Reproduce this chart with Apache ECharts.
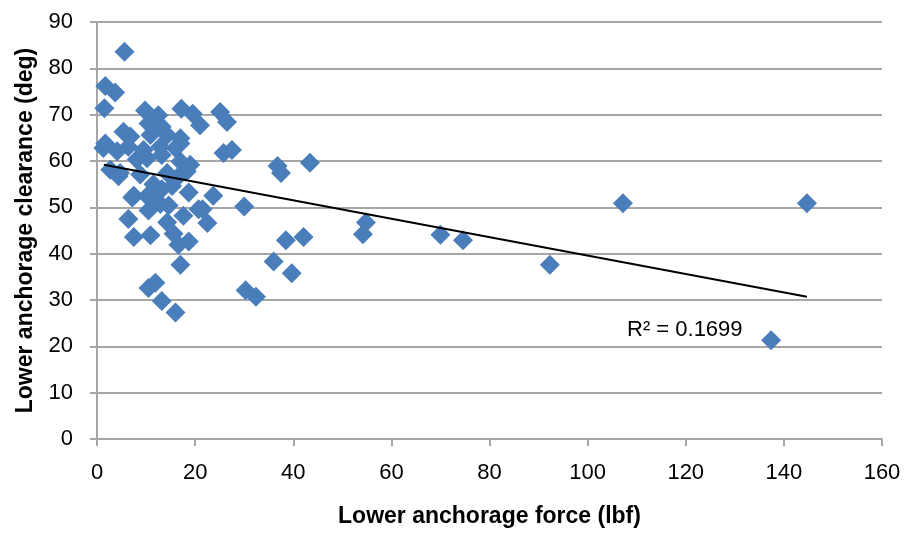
<!DOCTYPE html>
<html>
<head>
<meta charset="utf-8">
<script src="https://cdn.jsdelivr.net/npm/echarts@6/dist/echarts.min.js"></script>
<style>html,body{margin:0;padding:0;background:#fff}#c{width:906px;height:533px}</style>
</head>
<body>
<div id="c"></div>
<script>
// Lower anchorage force (lbf)
const forceX = [144.7,137.4,107.2,92.3,74.6,70.0,54.8,54.2,43.4,42.1,39.7,38.5,37.5,36.8,36.0,32.4,30.3,30.0,27.5,25.8,26.5,25.1,23.7,22.5,21.5,21.0,19.5,17.2,18.7,18.3,19.0,17.0,17.6,18.7,16.6,17.0,16.0,13.2,11.9,10.5,15.6,14.3,10.9,7.5,6.4,7.5,10.5,11.9,12.9,10.5,14.6,13.2,15.3,11.5,16.3,14.3,8.8,4.7,2.7,4.4,8.1,10.2,13.2,16.0,12.9,9.5,6.4,4.1,1.3,1.7,17.0,14.3,10.9,6.8,5.4,13.2,10.5,12.5,9.8,1.5,3.7,1.7,5.6,17.0,20.7,7.2,10.6];
// Lower anchorage clearance (deg)
const clearanceY = [50.9,21.3,50.9,37.6,42.9,44.1,46.7,44.2,59.6,43.6,35.8,42.9,57.4,58.9,38.3,30.7,32.1,50.2,62.4,61.7,68.4,70.6,52.5,46.6,49.6,67.7,70.2,71.3,53.2,57.8,59.2,59.9,48.2,42.6,41.9,37.6,27.3,29.8,33.7,32.6,44.3,46.8,44.0,43.6,47.5,52.5,52.1,51.4,50.7,49.3,50.4,53.9,54.6,55.0,56.4,57.4,57.1,57.4,58.1,56.7,60.3,60.6,61.3,62.8,63.1,62.4,63.1,62.1,62.8,63.8,64.9,65.6,65.6,65.3,66.3,67.4,68.1,69.9,70.9,71.4,74.8,76.2,83.6,63.8,49.6,52.1,52.8];
// Linear trendline end points
const trendX = [1.4, 144.7];
const trendY = [59.2, 30.7];
const r2Text = 'R² = 0.1699';
const xTicks = [0,20,40,60,80,100,120,140,160];
const yTicks = [0,10,20,30,40,50,60,70,80,90];

const pts = forceX.map((x,i)=>[x, clearanceY[i]]);
const trend = trendX.map((x,i)=>[x, trendY[i]]);

const FONT = '"Liberation Sans", Arial, sans-serif';
const gridColor = '#a6a6a6';

const chart = echarts.init(document.getElementById('c'), null, {renderer:'canvas'});
chart.setOption({
  animation:false,
  backgroundColor:'#fff',
  grid:{left:97, right:24, top:22, bottom:88, containLabel:false},
  xAxis:{
    type:'value', min:xTicks[0], max:xTicks[xTicks.length-1], interval:xTicks[1]-xTicks[0],
    name:'Lower anchorage force (lbf)', nameLocation:'middle', nameGap:66,
    nameTextStyle:{fontFamily:FONT, fontSize:23, fontWeight:'bold', color:'#000'},
    axisLine:{show:true, onZero:false, lineStyle:{color:gridColor, width:2}},
    axisTick:{show:true, inside:false, length:7, lineStyle:{color:gridColor, width:2}},
    axisLabel:{fontFamily:FONT, fontSize:22, color:'#000', margin:23},
    splitLine:{show:false}
  },
  yAxis:{
    type:'value', min:yTicks[0], max:yTicks[yTicks.length-1], interval:yTicks[1]-yTicks[0],
    name:'Lower anchorage clearance (deg)', nameLocation:'middle', nameGap:60,
    nameTextStyle:{fontFamily:FONT, fontSize:23, fontWeight:'bold', color:'#000'},
    axisLine:{show:true, onZero:false, lineStyle:{color:gridColor, width:2}},
    axisTick:{show:true, inside:false, length:7, lineStyle:{color:gridColor, width:2}},
    axisLabel:{fontFamily:FONT, fontSize:22, color:'#000', margin:24},
    splitLine:{show:true, lineStyle:{color:gridColor, width:2}}
  },
  series:[
    {type:'scatter', data:pts, symbol:'diamond', symbolSize:20,
     itemStyle:{color:'#4a7ebb', opacity:1}, z:2},
    {type:'line', data:trend, showSymbol:false, symbol:'none',
     lineStyle:{color:'#000', width:2}, z:3, silent:true}
  ],
  graphic:[
    {type:'text', left:627, top:319, z:10,
     style:{text:r2Text, fontFamily:FONT, fontSize:22, fill:'#000'}}
  ]
});
</script>
</body>
</html>
